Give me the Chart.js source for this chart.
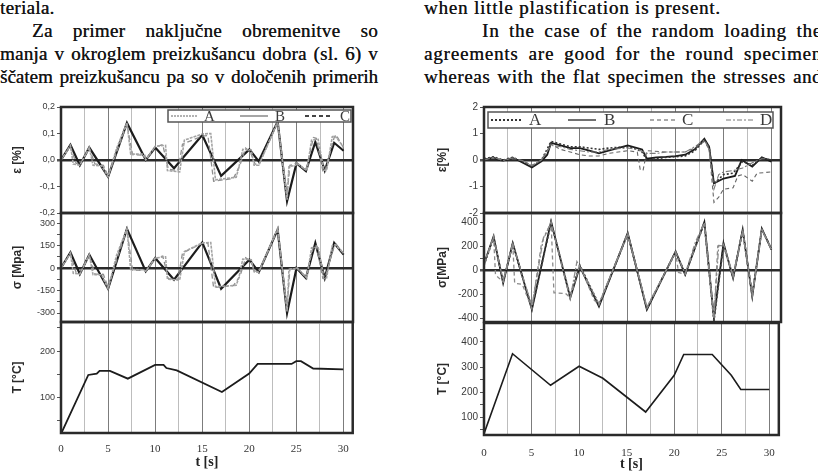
<!DOCTYPE html>
<html><head><meta charset="utf-8">
<script src="https://cdn.jsdelivr.net/npm/chart.js@4"></script>
<style>
html,body{margin:0;padding:0;background:#fff;}
body{width:818px;height:476px;overflow:hidden;position:relative;}
.ln{position:absolute;font-family:'Liberation Serif','Times New Roman',serif;font-size:19px;line-height:23px;color:#141414;white-space:nowrap;text-shadow:0.3px 0 0 #333;}
.L{letter-spacing:0.3px;}
.R{letter-spacing:0.8px;}
canvas{position:absolute;}
</style></head><body>
<div class="ln L" style="left:0px;top:-4px;">teriala.</div>
<div class="ln L" data-w="346" style="left:32px;top:19px;"><span>Za primer naključne obremenitve so</span></div>
<div class="ln L" data-w="378" style="left:0px;top:42px;"><span>manja v okroglem preizkušancu dobra (sl. 6) v</span></div>
<div class="ln L" data-w="378" style="left:0px;top:65px;"><span>ščatem preizkušancu pa so v določenih primerih</span></div>
<div class="ln R" style="left:424px;top:-4px;">when little plastification is present.</div>
<div class="ln R" data-w="340" style="left:482px;top:19px;"><span>In the case of the random loading the</span></div>
<div class="ln R" data-w="398" style="left:424px;top:42px;"><span>agreements are good for the round specimen</span></div>
<div class="ln R" data-w="398" style="left:424px;top:65px;"><span>whereas with the flat specimen the stresses and</span></div>
<script>
// justify each text line to its width
document.querySelectorAll('.ln[data-w]').forEach(d => {
  const sp = d.firstElementChild, W = +d.dataset.w;
  const txt = sp.textContent, gaps = (txt.match(/ /g) || []).length;
  let ls = parseFloat(getComputedStyle(d).letterSpacing) || 0;
  let nat = sp.getBoundingClientRect().width;
  if (nat > W - gaps * 2) {
    ls -= (nat - (W - gaps * 2)) / txt.length;
    d.style.letterSpacing = ls + 'px';
    nat = sp.getBoundingClientRect().width;
  }
  sp.style.wordSpacing = ((W - nat) / gaps) + 'px';
});

// ---------- data ----------
const xTicks = [0,2.5,5,7.5,10,12.5,15,17.5,20,22.5,25,27.5,30];

// left figure (round specimen)
const tLB   = [0,1,2,3,5,7,9,10,12,15,17,20,21,23,24,25,26,27,28,29,30];
const epsLB = [0,0.057,-0.02,0.047,-0.063,0.14,0.0,0.047,-0.031,0.094,-0.06,0.04,-0.005,0.145,-0.155,-0.012,-0.042,0.068,-0.04,0.065,0.035];
const sigLB = [0,105,-40,90,-138,262,-22,67,-78,171,-138,56,-27,256,-300,0,-67,167,-67,167,89];

const tLA   = [0,1,1.3,2,3,3.4,4.3,5,5.9,7,7.4,8.7,9,10,11.1,11.3,12.6,13.1,15,15.9,16.4,18.6,18.9,19.3,20.2,20.5,21,23,24,24.2,24.9,25.1,26.1,26.6,27.3,27.9,28.2,28.8,29.1,30];
const epsLA = [0,0.055,-0.015,-0.02,0.047,-0.02,-0.022,-0.063,0.044,0.14,0.022,0.022,0.0,0.052,0.055,-0.04,-0.045,0.075,0.098,0.1,-0.075,-0.065,-0.025,0.04,0.038,-0.02,-0.02,0.145,-0.15,-0.025,-0.02,-0.013,-0.04,0.075,0.078,-0.038,-0.04,0.088,0.09,0.05];
const sigLA = [0,100,-35,-40,89,-45,-45,-138,85,262,-10,-12,-22,67,75,-75,-80,110,168,170,-125,-115,-60,60,55,-25,-27,265,-290,-10,-5,0,-67,135,140,-60,-65,150,155,100];

const tLC   = [0,1,1.6,2,3,3.6,4.5,5,6.1,7,7.6,8.9,9,10,10.8,11.4,12.4,12.9,15,15.6,16.2,18.3,19,19.6,20.1,20.6,21,23,24,24.3,24.7,25,26,26.8,27.1,27.8,28,29,29.2,30];
const epsLC = [0,0.05,-0.012,-0.018,0.045,-0.015,-0.02,-0.06,0.048,0.135,0.02,0.018,0.0,0.05,0.058,-0.035,-0.04,0.06,0.09,0.092,-0.08,-0.07,-0.02,0.045,0.03,-0.015,-0.018,0.14,-0.13,-0.02,-0.018,-0.01,-0.04,0.085,0.082,-0.042,-0.045,0.085,0.095,0.045];
const sigLC = [0,95,-30,-38,85,-40,-42,-130,90,255,-15,-15,-20,62,80,-70,-78,100,165,165,-130,-118,-55,68,50,-20,-25,255,-270,-5,-3,0,-60,145,150,-70,-72,145,160,95];

const tLT = [0,2.9,3.8,4.1,5.2,7.1,10,10.9,11.2,12.3,17.1,20,20.9,24.5,25,25.5,26.8,30];
const TL  = [20,148,151,157,157,140,170,170,163,158,111,151,172,172,178,178,162,160];

// right figure (flat specimen)
const tREB  = [0,0.5,1,1.5,2,3,3.5,5,6,6.6,7,8,9,10,11,12,13,15,16,16.5,17,18,19,20,21,22,23,23.5,24,25,26.2,26.9,28,29,30];
const epsRB = [0.02,0.05,0.1,0,-0.02,0.08,0,-0.28,-0.05,0.2,0.65,0.55,0.45,0.45,0.35,0.25,0.35,0.55,0.45,0.4,0.05,0.1,0.12,0.15,0.2,0.4,0.8,0.5,-0.88,-0.7,-0.6,0,-0.25,0.1,-0.06];
const tREA  = [0,1,2,3,4,5,6,7,8,9,10,11,12,13,15,16,16.5,17,19,21,22,23,23.5,24,25,26,27,28,29,30];
const epsRA = [0.05,0.12,0,0.1,-0.05,-0.25,0,0.7,0.6,0.5,0.5,0.45,0.4,0.45,0.5,0.4,0.3,0.0,0.1,0.15,0.35,0.75,0.5,-0.9,-0.55,-0.5,-0.05,-0.2,0.08,0];
const tREC  = [0,1,2,3,4,5,6,7,8,9,10,11,12,13,14,15,16,16.3,16.6,17,19,21,22,23,23.5,24,24.5,25,26,26.5,27,28,28.5,30];
const epsRC = [0.02,0.08,0,0.05,-0.03,-0.2,0,0.6,0.4,0.3,0.2,0.15,0.15,0.25,0.3,0.35,0.3,-0.35,-0.4,0.35,0.3,0.3,0.45,0.7,0.4,-1.6,-1.4,-1.1,-1.05,-0.6,-0.55,-0.8,-0.5,-0.45];
const tRED  = [0,1,2,3,4,5,6,7,8,9,10,11,12,13,15,16,17,18,19,20,21,22,23,23.5,24,24.5,25,26,26.5,27,28,29,30];
const epsRD = [0,0.1,-0.02,0.08,-0.02,-0.22,0,0.55,0.5,0.4,0.35,0.3,0.3,0.4,0.45,0.4,0.25,0.25,0.3,0.3,0.3,0.5,0.75,0.45,-1.1,-0.55,-0.45,-0.4,-0.35,-0.3,-0.1,0.05,0.05];

const tRSB  = [0,1,2,3,5,7,9,10,12,15,17,20,21,23,24,25,26,27,28,29,30];
const sigRB = [50,280,-108,225,-330,405,-233,30,-303,308,-330,155,-39,400,-400,225,-67,336,-220,344,170];
const sigRA = [40,270,-100,215,-320,395,-220,40,-290,300,-320,150,-30,390,-420,210,-60,330,-210,340,175];
const tRSC  = [0,1,1.2,2,3,3.2,4,5,6,7,7.3,8.5,9,10,11.5,12,15,17,20,20.3,21,23,24,24.4,25,26,27,28,29,30];
const sigRC = [50,280,-40,-100,225,-110,-120,-320,220,400,-190,-195,-230,40,-250,-290,305,-320,150,-20,-35,395,-410,200,215,-60,330,-215,340,175];
const tRSD  = [0,1,2,3,5,6.2,7,9,9.7,10,12,15,17,20,21,22.1,23,24,24.5,25.1,26,27,28,29,30];
const sigRD = [50,270,-90,215,-300,267,390,-240,70,30,-280,300,-310,150,-30,240,390,-380,205,200,-50,320,-200,335,170];

const tRT = [0,3,7,10,12.5,17,20,21,24,26,27,30];
const TR  = [33,353,227,303,255,120,267,350,350,267,210,210];

// y tick values
const epsLTicks = [-0.2,-0.1,0,0.1,0.2];
const sigLTicks = [-300,-225,-150,-75,0,75,150,225,300];
const TLTicks   = [50,100,150,200,250];
const epsRTicks = [-2,-1,0,1,2];
const sigRTicks = [-400,-300,-200,-100,0,100,200,300,400];
const TRTicks   = [50,100,150,200,250,300,350,400,450];

// ---------- helpers ----------
const pts = (t, v) => t.map((x, i) => ({x: x, y: v[i]}));
const frame = {id:'frame', afterDraw(c){
  const a = c.chartArea, g = c.ctx; g.save();
  g.strokeStyle = '#2a2a2a'; g.lineWidth = 2.5;
  g.strokeRect(a.left, a.top, a.right - a.left, a.bottom - a.top); g.restore();
}};
function makeLegend(spec, offL, offT){
  return {id:'lg', afterDraw(c){
    const g = c.ctx; g.save();
    const b = spec.box;
    g.fillStyle = '#fff'; g.fillRect(b[0]-offL, b[1]-offT, b[2]-b[0], b[3]-b[1]);
    g.strokeStyle = '#555'; g.lineWidth = 1.5;
    g.strokeRect(b[0]-offL, b[1]-offT, b[2]-b[0], b[3]-b[1]);
    const cy = (b[1] + b[3]) / 2 - offT;
    spec.items.forEach(it => {
      g.beginPath(); g.setLineDash(it.dash); g.strokeStyle = it.color; g.lineWidth = it.w;
      g.moveTo(it.s0 - offL, cy); g.lineTo(it.s1 - offL, cy); g.stroke();
      g.setLineDash([]);
      g.fillStyle = '#3a3a3a'; g.font = spec.font; g.textBaseline = 'middle'; g.textAlign = 'left';
      g.fillText(it.label, it.lx - offL, cy + 1);
    });
    g.restore();
  }};
}
function makePanel(o){
  const yW = o.yW, xH = o.xH || 0, padT = 8, padB = o.xH ? 2 : 8, padR = 6;
  const left = o.L - yW, top = o.T - padT;
  const w = o.R + padR - left, h = padT + (o.B - o.T) + xH + padB;
  const cv = document.createElement('canvas');
  cv.width = w; cv.height = h;
  cv.style.left = left + 'px'; cv.style.top = top + 'px';
  cv.style.width = w + 'px'; cv.style.height = h + 'px';
  document.body.appendChild(cv);
  const plugins = [frame];
  if (o.legend) plugins.push(makeLegend(o.legend, left, top));
  new Chart(cv, {
    type: 'line',
    data: {datasets: o.datasets},
    options: {
      responsive: false, animation: false, devicePixelRatio: 1,
      layout: {padding: {left: 0, right: padR, top: padT, bottom: padB}},
      plugins: {legend: {display: false}, tooltip: {enabled: false}},
      elements: {point: {radius: 0}, line: {tension: 0}},
      scales: {
        x: {
          type: 'linear', min: 0, max: 31,
          afterBuildTicks: s => { s.ticks = xTicks.map(v => ({value: v})); },
          afterFit: s => { s.height = xH; },
          border: {display: false},
          grid: {color: c => (c.tick && c.tick.value % 5 === 0) ? '#7c7c7c' : '#bdbdbd', lineWidth: 1, drawTicks: false},
          ticks: {display: !!o.xH, padding: o.xPad || 9, autoSkip: false, maxRotation: 0, color: '#333',
                  font: {family: 'Liberation Serif', size: 11},
                  callback: v => (v % 5 === 0 ? String(v) : '')},
          title: {display: !!o.xH, text: 't [s]', color: '#222', padding: 0,
                  font: {family: 'Liberation Serif', size: 14, weight: 'bold'}}
        },
        y: {
          min: o.min, max: o.max,
          afterBuildTicks: s => { s.ticks = o.ticks.map(v => ({value: v})); },
          afterFit: s => { s.width = yW; },
          border: {display: false},
          grid: {color: c => (c.tick && c.tick.value === 0) ? '#2a2a2a' : 'rgba(0,0,0,0)',
                 lineWidth: c => (c.tick && c.tick.value === 0) ? 2.5 : 1,
                 drawTicks: true, tickLength: 4, tickColor: '#555'},
          ticks: {autoSkip: false, padding: 2, color: '#3a3a3a',
                  font: {family: 'Liberation Sans', size: o.tickSize || 9},
                  callback: v => (o.step && Math.abs(v % o.step) > 1e-6) ? '' : (o.fmt ? o.fmt(v) : String(v))},
          title: {display: true, text: o.title, color: '#2a2a2a', padding: 0,
                  font: {family: 'Liberation Sans', size: 12, weight: 'bold'}}
        }
      }
    },
    plugins: plugins
  });
}
const ds = (label, t, v, color, width, dash) => ({label, data: pts(t, v), borderColor: color, borderWidth: width, borderDash: dash, fill: false});
const comma = v => v.toFixed(1).replace('.', ',');

// ---------- left figure ----------
const LG = {L: 61, R: 353, yW: 51};
makePanel(Object.assign({}, LG, {T: 107, B: 213, min: -0.2, max: 0.2, ticks: epsLTicks, fmt: comma, title: 'ε [%]',
  datasets: [ds('A', tLA, epsLA, '#a4a4a4', 1.6, [3,1]), ds('C', tLC, epsLC, '#8e8e8e', 1.3, [5,3]), ds('B', tLB, epsLB, '#1c1c1c', 2.2, [])],
  legend: {box: [168,110,351,122], font: '15px "Liberation Serif"', items: [
    {label: 'A', s0: 171, s1: 197, lx: 204, dash: [2,1], color: '#999', w: 1.5},
    {label: 'B', s0: 240, s1: 268, lx: 275, dash: [], color: '#888', w: 1.5},
    {label: 'C', s0: 305, s1: 333, lx: 340, dash: [4,3], color: '#444', w: 2}]}
}));
makePanel(Object.assign({}, LG, {T: 213, B: 322, min: -360, max: 367, ticks: sigLTicks, step: 150, title: 'σ [Mpa]',
  datasets: [ds('A', tLA, sigLA, '#a4a4a4', 1.6, [3,1]), ds('C', tLC, sigLC, '#8e8e8e', 1.3, [5,3]), ds('B', tLB, sigLB, '#1c1c1c', 2.2, [])]
}));
makePanel(Object.assign({}, LG, {T: 322, B: 433, xH: 38, xPad: 10, min: 22, max: 263, ticks: TLTicks, step: 100, title: 'T [°C]',
  datasets: [ds('T', tLT, TL, '#1c1c1c', 1.8, [])]
}));

// ---------- right figure ----------
const RG = {L: 484, R: 781, yW: 49, tickSize: 10};
makePanel(Object.assign({}, RG, {T: 107, B: 213, min: -2, max: 2, ticks: epsRTicks, title: 'ε[%]',
  datasets: [ds('D', tRED, epsRD, '#7a7a7a', 1.1, [6,2,2,2]), ds('C', tREC, epsRC, '#666', 1.1, [4,3]),
             ds('A', tREA, epsRA, '#333', 1.6, [2,2]), ds('B', tREB, epsRB, '#1c1c1c', 1.8, [])],
  legend: {box: [488,112,773,128], font: '17px "Liberation Serif"', items: [
    {label: 'A', s0: 491, s1: 521, lx: 529, dash: [2,2], color: '#333', w: 2},
    {label: 'B', s0: 568, s1: 596, lx: 604, dash: [], color: '#222', w: 1.3},
    {label: 'C', s0: 650, s1: 678, lx: 682, dash: [4,3], color: '#555', w: 1},
    {label: 'D', s0: 726, s1: 755, lx: 760, dash: [5,2,2,2], color: '#777', w: 1}]}
}));
makePanel(Object.assign({}, RG, {T: 213, B: 322, min: -433, max: 475, ticks: sigRTicks, step: 200, title: 'σ[MPa]',
  datasets: [ds('D', tRSD, sigRD, '#8a8a8a', 1.3, [6,2,2,2]), ds('C', tRSC, sigRC, '#8a8a8a', 1.3, [4,3]),
             ds('A', tRSB, sigRA, '#444', 1.8, [2,2]), ds('B', tRSB, sigRB, '#1c1c1c', 1.8, [])]
}));
makePanel(Object.assign({}, RG, {T: 323, B: 435, xH: 38, xPad: 12, min: 28, max: 476, ticks: TRTicks, step: 100, title: 'T [°C]',
  datasets: [ds('T', tRT, TR, '#1c1c1c', 1.6, [])]
}));
</script>
</body></html>
